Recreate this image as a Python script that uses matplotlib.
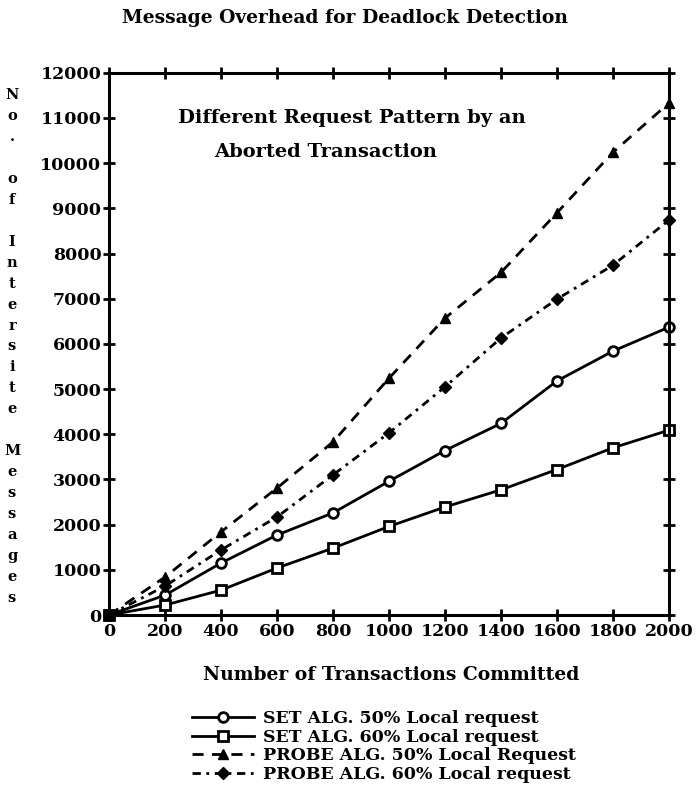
import matplotlib.pyplot as plt
import numpy as np

# transactions committed
x = [0, 200, 400, 600, 800, 1000, 1200, 1400, 1600, 1800, 2000]

# intersite messages per algorithm / local request ratio
set_50 = [0, 440, 1150, 1770, 2260, 2960, 3640, 4240, 5180, 5840, 6370]
set_60 = [0, 220, 550, 1040, 1480, 1960, 2390, 2770, 3220, 3700, 4090]
probe_50 = [0, 840, 1840, 2810, 3830, 5240, 6570, 7580, 8900, 10240, 11330]
probe_60 = [0, 640, 1440, 2170, 3100, 4030, 5050, 6130, 6990, 7740, 8740]

labels = [
    "SET ALG. 50% Local request",
    "SET ALG. 60% Local request",
    "PROBE ALG. 50% Local Request",
    "PROBE ALG. 60% Local request",
]

xticks = np.arange(0, 2001, 200)
yticks = np.arange(0, 12001, 1000)

plt.rcParams['font.family'] = 'DejaVu Serif'
plt.rcParams['font.weight'] = 'bold'

fig = plt.figure(figsize=(6.99, 7.91), dpi=100)
ax = fig.add_axes([0.156, 0.2225, 0.801, 0.6855])

lw = 2
ax.plot(x, set_50, color='black', lw=lw, ls='-', marker='o', ms=7,
        mfc='white', mec='black', mew=2, clip_on=False, label=labels[0])
ax.plot(x, set_60, color='black', lw=lw, ls='-', marker='s', ms=7,
        mfc='white', mec='black', mew=2, clip_on=False, label=labels[1])
ax.plot(x, probe_50, color='black', lw=lw, ls=(0, (4, 3)), marker='^', ms=7,
        mfc='black', mec='black', clip_on=False, label=labels[2])
ax.plot(x, probe_60, color='black', lw=lw, ls=(0, (3, 2, 1, 2)), marker='D', ms=6,
        mfc='black', mec='black', clip_on=False, label=labels[3])

ax.set_xlim(0, 2000)
ax.set_ylim(0, 12000)
ax.set_xticks(xticks)
ax.set_yticks(yticks)
ax.tick_params(direction='inout', length=9, width=2, labelsize=12.5,
               top=True, right=True, pad=1)
for lab in ax.get_xticklabels() + ax.get_yticklabels():
    lab.set_fontweight('bold')
for sp in ax.spines.values():
    sp.set_linewidth(2.2)

ax.text(0.434, 0.917, "Different Request Pattern by an", transform=ax.transAxes,
        ha='center', va='center', fontsize=14, fontweight='bold')
ax.text(0.386, 0.854, "Aborted Transaction", transform=ax.transAxes,
        ha='center', va='center', fontsize=14, fontweight='bold')

fig.text(0.494, 0.977, "Message Overhead for Deadlock Detection",
         ha='center', va='center', fontsize=13.5, fontweight='bold')
fig.text(0.559, 0.147, "Number of Transactions Committed",
         ha='center', va='center', fontsize=13.5, fontweight='bold')

# vertical stacked y-axis title
ylabel = "No. of Intersite Messages"
top_px, bot_px = 95, 598
step = (bot_px - top_px) / (len(ylabel) - 1)
for i, ch in enumerate(ylabel):
    ypx = top_px + i * step
    fig.text(12 / 699, 1 - ypx / 791, ch, ha='center', va='center',
             fontsize=10.5, fontweight='bold')

leg = fig.legend(loc='upper left', bbox_to_anchor=(0.262, 0.1135), frameon=False,
                 fontsize=12.5, handlelength=3.6, labelspacing=0.1,
                 handletextpad=0.5, borderpad=0)

fig.savefig('out.png', dpi=100)
